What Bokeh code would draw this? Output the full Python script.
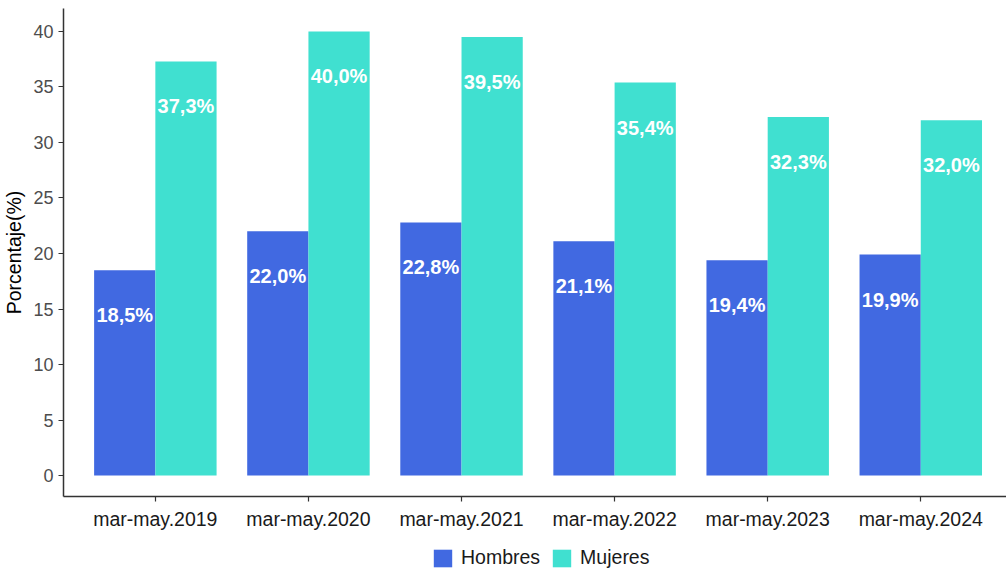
from bokeh.plotting import figure
from bokeh.layouts import column
from bokeh.models import Range1d, FixedTicker, ColumnDataSource, Legend, LegendItem
from bokeh.embed import file_html
from bokeh.resources import INLINE
from bokeh.core.properties import value

periods = ["mar-may.2019", "mar-may.2020", "mar-may.2021", "mar-may.2022", "mar-may.2023", "mar-may.2024"]
hombres = [18.5, 22.0, 22.8, 21.1, 19.4, 19.9]
mujeres = [37.3, 40.0, 39.5, 35.4, 32.3, 32.0]
series = ["Hombres", "Mujeres"]
y_ticks = [0, 5, 10, 15, 20, 25, 30, 35, 40]

FONT = "Liberation Sans"
C_H = "#4169E1"
C_M = "#40E0D0"

idx = list(range(len(periods)))
src_h = ColumnDataSource(dict(x=[i - 0.2 for i in idx], top=hombres,
                              lab=[f"{v:.1f}%".replace(".", ",") for v in hombres]))
src_m = ColumnDataSource(dict(x=[i + 0.2 for i in idx], top=mujeres,
                              lab=[f"{v:.1f}%".replace(".", ",") for v in mujeres]))

p = figure(width=1006, height=540, output_backend="svg", toolbar_location=None,
           x_range=Range1d(-0.6, 5.56), y_range=Range1d(-1.89, 42.07),
           min_border_left=62, min_border_right=0, min_border_top=8, min_border_bottom=44)
p.outline_line_color = None
p.xgrid.visible = False
p.ygrid.visible = False
p.background_fill_color = "white"

p.vbar(x="x", top="top", bottom=0, width=0.4, source=src_h, fill_color=C_H, line_color=None)
p.vbar(x="x", top="top", bottom=0, width=0.4, source=src_m, fill_color=C_M, line_color=None)

for s in (src_h, src_m):
    p.text(x="x", y="top", text="lab", source=s, text_color="white",
           text_font=value(FONT), text_font_size="20px", text_font_style="bold",
           text_align="center", text_baseline="middle", y_offset=45)

# axes
p.xaxis.ticker = FixedTicker(ticks=idx)
p.xaxis.major_label_overrides = {i: lab for i, lab in enumerate(periods)}
p.yaxis.ticker = FixedTicker(ticks=y_ticks)
for ax in (p.xaxis[0], p.yaxis[0]):
    ax.axis_line_color = "#333333"
    ax.axis_line_width = 1.5
    ax.major_tick_line_color = "#333333"
    ax.major_tick_line_width = 1.2
    ax.major_tick_out = 5
    ax.major_tick_in = 0
    ax.minor_tick_line_color = None
    ax.major_label_text_font = FONT
p.xaxis.major_label_text_font_size = "19.5px"
p.xaxis.major_label_text_color = "#1a1a1a"
p.xaxis.major_label_standoff = 6
p.yaxis.major_label_text_font_size = "18px"
p.yaxis.major_label_text_color = "#4d4d4d"
p.yaxis.major_label_standoff = 5
p.yaxis.axis_label = "Porcentaje(%)"
p.yaxis.axis_label_text_font = FONT
p.yaxis.axis_label_text_font_size = "19.5px"
p.yaxis.axis_label_text_font_style = "normal"
p.yaxis.axis_label_text_color = "black"
p.yaxis.axis_label_standoff = 5

# legend strip below the chart (its frame is aligned with the chart frame)
q = figure(width=1006, height=30, output_backend="svg", toolbar_location=None,
           x_range=Range1d(0, 1), y_range=Range1d(0, 1),
           x_axis_location=None, y_axis_location=None, min_border=0)
q.outline_line_color = None
q.grid.visible = False
lh = q.vbar(x=[5], top=[1], width=0.4, fill_color=C_H, line_color=None)
lm = q.vbar(x=[5], top=[1], width=0.4, fill_color=C_M, line_color=None)
legend = Legend(items=[LegendItem(label=series[0], renderers=[lh]),
                       LegendItem(label=series[1], renderers=[lm])],
                orientation="horizontal", location=(368, 1),
                glyph_width=23, glyph_height=22, label_standoff=7, spacing=10,
                label_text_font=FONT, label_text_font_size="19.5px", label_text_color="#1a1a1a",
                border_line_color=None, background_fill_alpha=0, padding=0, margin=0)
q.add_layout(legend, "center")

layout = column(p, q, spacing=0)
open("out.html", "w").write(file_html(layout, INLINE))
